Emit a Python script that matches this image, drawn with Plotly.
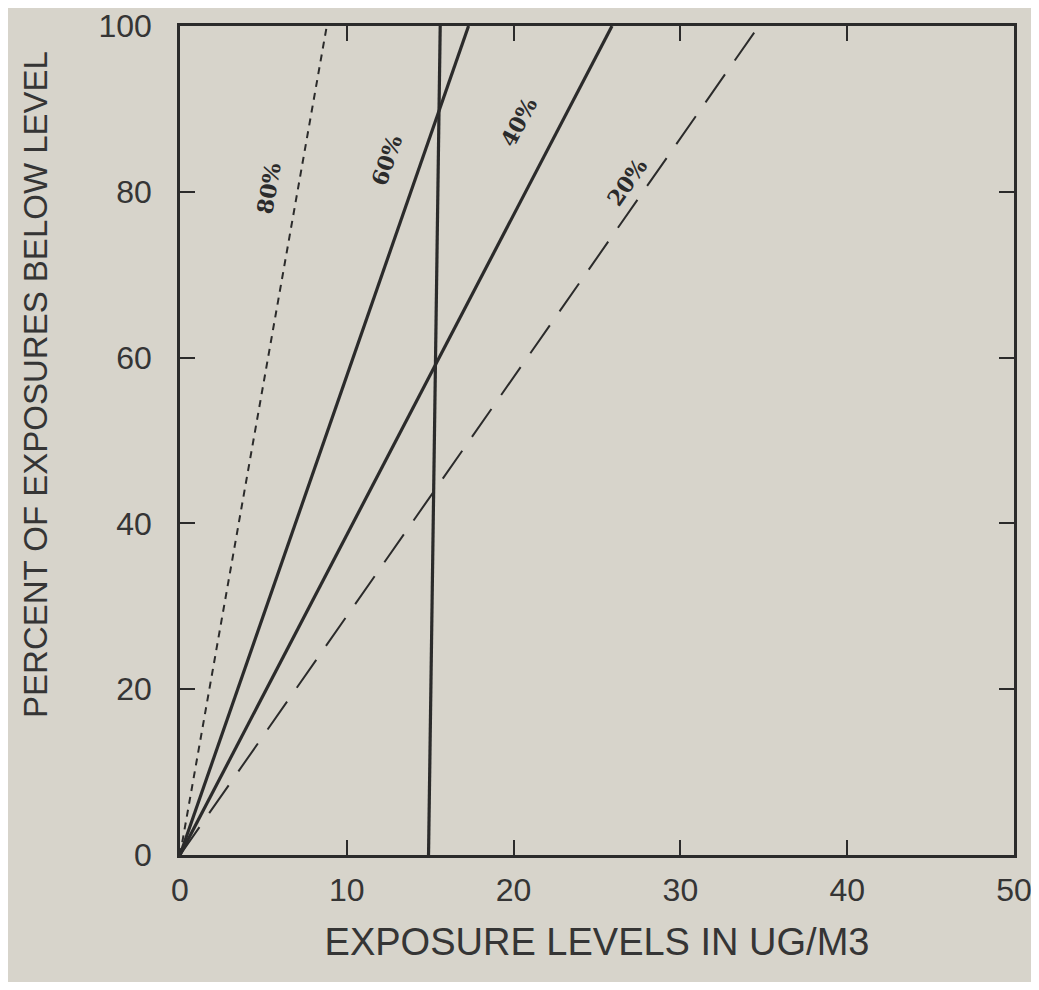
import plotly.graph_objects as go

# Data
series_names = ["80%", "60%", "40%", "20%"]
percent_levels = [0, 100]
exposure_80 = [0, 8.8]
exposure_60 = [0, 17.3]
exposure_40 = [0, 25.9]
exposure_20 = [0, 34.7]
standard_x = [14.9, 15.6]
standard_y = [0, 100]
label_x = [5.3, 12.4, 20.3, 26.8]
label_y = [80.5, 83.8, 88.4, 81.2]
label_angle = [-80, -71, -62, -55]

x_ticks = [0, 10, 20, 30, 40, 50]
y_ticks = [0, 20, 40, 60, 80, 100]
x_title = "EXPOSURE LEVELS IN UG/M3"
y_title = "PERCENT OF EXPOSURES BELOW LEVEL"

ink = "#2b2b2b"
txt = "#353535"
bg = "#d7d4cb"

fig = go.Figure()
styles = [dict(width=2, dash="7px,6px"), dict(width=3.2), dict(width=3.2), dict(width=2, dash="34px,17px")]
for name, xs, st in zip(series_names, [exposure_80, exposure_60, exposure_40, exposure_20], styles):
    fig.add_trace(go.Scatter(x=xs, y=percent_levels, mode="lines", name=name,
                             line=dict(color=ink, **st), showlegend=False, hoverinfo="skip"))
fig.add_trace(go.Scatter(x=standard_x, y=standard_y, mode="lines", line=dict(color=ink, width=3.2),
                         showlegend=False, hoverinfo="skip"))

for name, lx, ly, ang in zip(series_names, label_x, label_y, label_angle):
    fig.add_annotation(x=lx, y=ly, text="<b>" + name + "</b>", showarrow=False, textangle=ang,
                       font=dict(family="DejaVu Serif", size=22, color=ink))

# y-axis title (placed as in the original, slightly above centre)
fig.add_annotation(xref="paper", yref="paper", x=0, y=0.567, xanchor="center", yanchor="middle",
                   xshift=-144, text=y_title, textangle=-90, showarrow=False,
                   font=dict(family="Liberation Sans", size=33, color=txt))

axis_common = dict(showline=True, linecolor=ink, linewidth=2.5, mirror="ticks", ticks="inside",
                   ticklen=15, tickwidth=2, tickcolor=ink, showgrid=False, zeroline=False,
                   automargin=False, ticklabeloverflow="allow",
                   tickfont=dict(family="Liberation Sans", size=32, color=txt))
fig.update_xaxes(range=[0, 50], tickvals=x_ticks, ticklabelstandoff=5,
                 title=dict(text=x_title, standoff=22,
                            font=dict(family="Liberation Sans", size=38, color=txt)),
                 **axis_common)
fig.update_yaxes(range=[0, 100], tickvals=y_ticks, ticklabelstandoff=19, **axis_common)

fig.update_layout(width=1031, height=974, paper_bgcolor=bg, plot_bgcolor=bg,
                  margin=dict(l=172, r=25, t=18, b=127))
fig.write_html("out.html")
